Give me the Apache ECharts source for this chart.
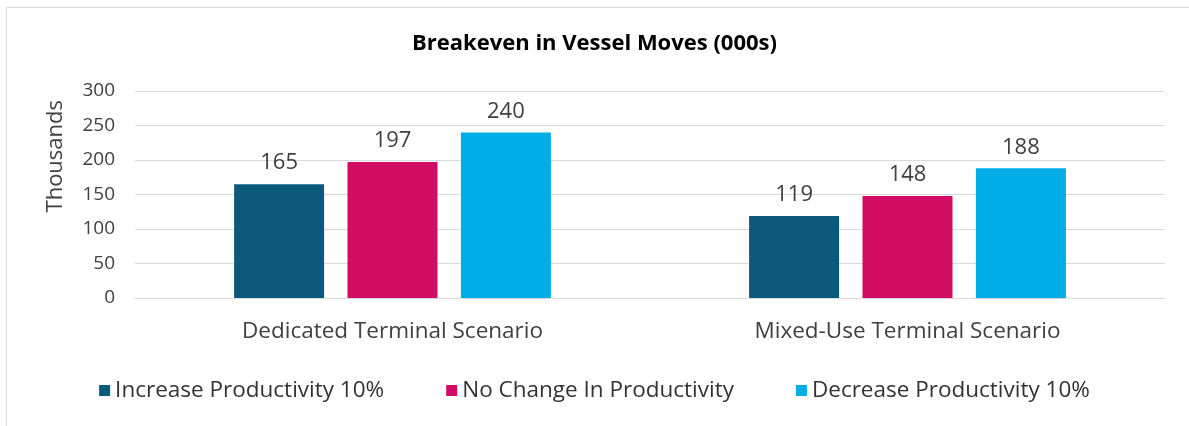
<!DOCTYPE html>
<html><head><meta charset="utf-8">
<script src="https://cdn.jsdelivr.net/npm/echarts@6/dist/echarts.min.js"></script>
<style>html,body{margin:0;padding:0;background:#fff}#c{width:1189px;height:426px}</style>
</head><body><div id="c"></div>
<script>
const categories = ['Dedicated Terminal Scenario', 'Mixed-Use Terminal Scenario'];
const seriesNames = ['Increase Productivity 10%', 'No Change In Productivity', 'Decrease Productivity 10%'];
const increaseVals = [165, 119];
const noChangeVals = [197, 148];
const decreaseVals = [240, 188];
const yTicks = [0, 50, 100, 150, 200, 250, 300];
const colors = ['#0b5a7c', '#d20b63', '#00ade6'];
const font = "'Open Sans', 'Noto Sans', sans-serif";

const chart = echarts.init(document.getElementById('c'));
const vals = [increaseVals, noChangeVals, decreaseVals];
chart.setOption({
  animation: false,
  title: {text: 'Breakeven in Vessel Moves (000s)', left: 'center', top: 28,
    textStyle: {fontFamily: font, fontSize: 22, fontWeight: 'bold', color: '#000'}},
  legend: {top: 374, left: 'center', itemWidth: 11, itemHeight: 11, itemGap: 62, icon: 'rect',
    textStyle: {fontFamily: font, fontSize: 22.5, color: '#333'}},
  grid: {left: 135, right: 24, top: 91, bottom: 128},
  xAxis: {type: 'category', data: categories,
    axisLine: {lineStyle: {color: '#d9d9d9'}}, axisTick: {show: false},
    axisLabel: {fontFamily: font, fontSize: 22.5, color: '#404040', margin: 22}},
  yAxis: {type: 'value', min: yTicks[0], max: yTicks[yTicks.length-1], interval: 50,
    axisLine: {show: false}, axisTick: {show: false},
    splitLine: {lineStyle: {color: '#d9d9d9'}},
    axisLabel: {fontFamily: font, fontSize: 19, color: '#404040', margin: 20}},
  graphic: [{type: 'text', left: 45, top: 100, rotation: Math.PI/2,
    style: {text: 'Thousands', font: "22px 'Open Sans', sans-serif", fill: '#404040'}},
    {type: 'line', shape: {x1: 6.5, y1: 7.5, x2: 1189, y2: 7.5}, style: {stroke: '#d9d9d9'}, silent: true},
    {type: 'line', shape: {x1: 6.5, y1: 7.5, x2: 6.5, y2: 426}, style: {stroke: '#d9d9d9'}, silent: true}],
  series: seriesNames.map((n, i) => ({
    name: n, type: 'bar', data: vals[i], barWidth: 90, barGap: '26%',
    itemStyle: {color: colors[i]},
    label: {show: true, position: 'top', distance: 10, fontFamily: font, fontSize: 22, color: '#404040'}
  }))
});
</script></body></html>
